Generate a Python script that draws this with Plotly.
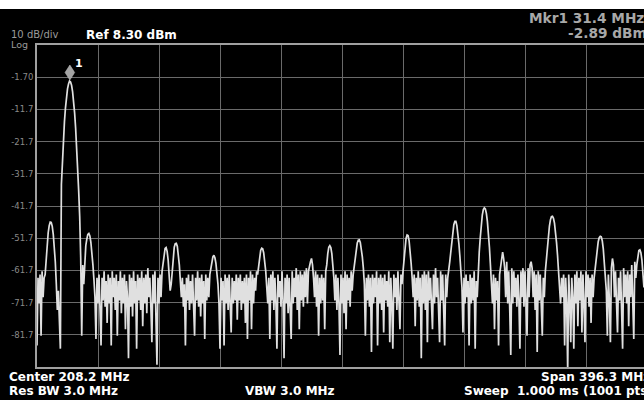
import numpy as np
import plotly.graph_objects as go

# ---- instrument settings (from the screen) ----
center_mhz = 208.2
span_mhz = 396.3
ref_dbm = 8.30
db_per_div = 10
marker_freq_mhz = 31.4
marker_dbm = -2.89

y_tick_vals = [-1.7, -11.7, -21.7, -31.7, -41.7, -51.7, -61.7, -71.7, -81.7]
y_tick_text = ["-1.70", "-11.7", "-21.7", "-31.7", "-41.7", "-51.7", "-61.7", "-71.7", "-81.7"]

trace_dbm = [
    -85, -64, -72, -63, -82, -62, -70, -64, -63, -58, -53.5, -50, -47.8, -46.7, -46.8, -48, -50.5, -54, -59, -66,
    -74, -68, -76, -86, -35, -27, -21, -15.5, -11.2, -7.8, -5.3, -3.8, -2.9, -3.2, -4.2, -6.2, -9.1, -12.8, -17.5, -23.1,
    -29.6, -37, -45, -58, -82, -60, -66, -58, -54, -52, -50.5, -50.2, -51, -53, -56, -60, -64.5, -70, -83, -64,
    -72, -63, -74, -85, -64, -71, -62, -73, -65, -78, -63, -72, -64, -85, -62, -70, -64, -74, -63, -82,
    -65, -71, -62, -75, -64, -72, -63, -80, -65, -70, -89, -63, -73, -64, -76, -62, -72, -65, -86, -63,
    -71, -64, -74, -62, -79, -64, -72, -63, -75, -61, -70, -64, -73, -84, -63, -72, -62, -74, -91, -64,
    -72, -63, -70, -62, -59, -56.5, -54.9, -54.6, -55.8, -58.5, -63, -68, -66, -61, -57, -54.5, -53.4, -53.3, -54.2, -56.5,
    -60, -65, -70, -64, -73, -66, -85, -64, -71, -63, -74, -65, -72, -63, -78, -82, -64, -71, -62, -73,
    -64, -76, -63, -72, -65, -83, -63, -71, -64, -70, -63, -61, -59, -57.5, -57, -57.8, -59.5, -62, -66, -72,
    -86, -64, -71, -65, -85, -63, -72, -64, -74, -63, -70, -81, -64, -72, -65, -71, -63, -77, -64, -71,
    -63, -74, -65, -72, -64, -78, -63, -83, -64, -71, -62, -80, -63, -72, -64, -68, -62, -63, -60.5, -57.3,
    -55.5, -54.8, -55, -56.3, -58.5, -62, -67, -72, -64, -83, -63, -71, -62, -74, -64, -72, -86, -63, -70, -65,
    -73, -62, -71, -89, -64, -72, -63, -75, -64, -71, -83, -62, -72, -64, -70, -61, -74, -63, -80, -62,
    -71, -63, -73, -62, -70, -61, -72, -62, -60, -59, -58, -60, -64, -70, -62, -73, -63, -82, -64, -72,
    -63, -71, -64, -80, -62, -60, -56.5, -54.5, -54, -54.6, -56.5, -60, -64, -71, -63, -74, -64, -72, -88, -63,
    -72, -64, -75, -62, -80, -63, -71, -64, -73, -62, -68, -63, -60, -57.5, -55, -53.2, -52.3, -52.2, -53, -54.8,
    -57.5, -61, -66, -82, -64, -71, -63, -73, -64, -87, -63, -72, -64, -70, -62, -85, -64, -72, -63, -74,
    -64, -81, -63, -71, -65, -73, -62, -84, -64, -72, -86, -63, -70, -64, -74, -62, -72, -80, -63, -66,
    -62, -58, -54.5, -51.8, -50.7, -50.9, -52.5, -55.5, -59.5, -64, -70, -63, -79, -64, -71, -62, -73, -64, -89, -63,
    -72, -62, -74, -63, -84, -62, -71, -64, -73, -80, -63, -72, -61, -70, -64, -73, -84, -62, -71, -63,
    -74, -85, -63, -70, -64, -62, -59, -56, -52.5, -49.5, -47.5, -46.5, -46.5, -47.8, -50, -53.5, -57.5, -62, -67, -81,
    -64, -72, -63, -70, -65, -85, -63, -72, -64, -71, -62, -86, -65, -70, -61, -56, -51.5, -47.5, -44.5, -42.8,
    -42.3, -42.6, -44, -46.5, -50, -54.5, -60, -66, -72, -63, -80, -64, -71, -65, -85, -63, -60, -57, -56, -58,
    -61, -70, -59, -72, -62, -74, -88, -61, -72, -62, -70, -64, -73, -63, -71, -86, -62, -70, -61, -73,
    -62, -72, -82, -61, -70, -60, -59, -61, -70, -62, -74, -63, -87, -62, -71, -63, -75, -82, -64, -70,
    -62, -58, -54.5, -51, -48, -46, -45, -44.9, -45.5, -47, -49.5, -53, -57, -62, -67, -72, -64, -70, -63, -85,
    -64, -72, -93, -63, -71, -84, -64, -70, -86, -63, -72, -62, -79, -64, -71, -62, -81, -63, -72, -84,
    -62, -70, -63, -73, -64, -78, -63, -70, -64, -61, -58, -55, -52.8, -51.5, -51.1, -51.3, -52.5, -55, -58.5, -63,
    -68, -82, -63, -71, -84, -61, -58, -60, -70, -62, -73, -81, -64, -71, -62, -74, -86, -61, -70, -63,
    -72, -62, -79, -63, -70, -60, -72, -83, -59, -64, -60, -57, -55.5, -55.3, -56.2, -58.5, -62, -67, -63, -72,
    -64,
]

f_start = center_mhz - span_mhz / 2
f_stop = center_mhz + span_mhz / 2
freq_mhz = np.linspace(f_start, f_stop, len(trace_dbm))

W, H = 644, 400
L, R, T, B = 37, 0, 45, 33
GRAT_W = 610  # full graticule width in px (right edge falls off-screen)
x_end = f_start + span_mhz * (W - L - R) / GRAT_W
y_bottom = ref_dbm - 10 * db_per_div

fig = go.Figure()
fig.add_trace(go.Scatter(
    x=freq_mhz, y=trace_dbm, mode="lines",
    line=dict(color="#e0e0e0", width=1.7),
    hoverinfo="skip", showlegend=False,
))

grid_c = "#6a6a6a"
border_c = "#a0a0a0"
fig.update_xaxes(
    range=[f_start, x_end], tickmode="linear", tick0=f_start, dtick=span_mhz / 10,
    showticklabels=False, ticks="", showgrid=True, gridcolor=grid_c, gridwidth=1,
    showline=True, linecolor=border_c, linewidth=2, mirror=True, zeroline=False,
)
fig.update_yaxes(
    range=[y_bottom, ref_dbm], tickmode="array", tickvals=y_tick_vals, ticktext=y_tick_text,
    ticks="", showgrid=True, gridcolor=grid_c, gridwidth=1,
    showline=True, linecolor=border_c, linewidth=2, mirror=False, zeroline=False,
    tickfont=dict(family="DejaVu Sans", size=8.5, color="#8a8a8a"),
)

def px_x(px):
    return (px - L) / (W - L - R)

def px_y(py):
    return (H - B - py) / (H - T - B)

fam = "DejaVu Sans"
ann = []
def add_text(txt, px, py, size, color, anchor="left"):
    ann.append(dict(text=txt, x=px_x(px), y=px_y(py), xref="paper", yref="paper",
                    xanchor=anchor, yanchor="middle", showarrow=False,
                    font=dict(family=fam, size=size, color=color)))

add_text("10 dB/div", 9, 34, 10, "#9a9a9a")
add_text("Log", 9, 44.5, 9.5, "#9a9a9a")
add_text("<b>Ref 8.30 dBm</b>", 84, 35, 12, "#ffffff")
add_text("<b>Mkr1 31.4 MHz</b>", 527, 18, 13.7, "#a8a8a8")
add_text("<b>-2.89 dBm</b>", 566, 33.5, 13.7, "#a8a8a8")
add_text("<b>Center 208.2 MHz</b>", 7, 377, 12, "#ffffff")
add_text("<b>Res BW 3.0 MHz</b>", 7, 391, 12, "#ffffff")
add_text("<b>VBW 3.0 MHz</b>", 243, 391, 12, "#ffffff")
add_text("<b>Span 396.3 MHz</b>", 539, 377, 12, "#ffffff")
add_text("<b>Sweep  1.000 ms (1001 pts)</b>", 462, 391, 12, "#ffffff")

# marker number label
ann.append(dict(text="<b>1</b>", x=marker_freq_mhz, y=marker_dbm, xref="x", yref="y",
                xshift=9, yshift=18, showarrow=False,
                font=dict(family=fam, size=11, color="#ffffff")))

shapes = [
    # white strip at the top of the screenshot
    dict(type="rect", xref="paper", yref="paper", x0=-0.2, x1=1.2,
         y0=px_y(9), y1=px_y(-2), fillcolor="#ffffff", line=dict(width=0), layer="above"),
    # marker diamond sitting on the marker point
    dict(type="path", xref="x", yref="y", xsizemode="pixel", ysizemode="pixel",
         xanchor=marker_freq_mhz, yanchor=marker_dbm,
         path="M0,1 L4.8,8.5 L0,16 L-4.8,8.5 Z",
         fillcolor="#a4a4a4", line=dict(color="#c8c8c8", width=0.5), layer="above"),
]

fig.update_layout(
    width=W, height=H, margin=dict(l=L, r=R, t=T, b=B, pad=0),
    paper_bgcolor="#000000", plot_bgcolor="#000000",
    annotations=ann, shapes=shapes, showlegend=False,
)
fig.write_html("out.html")
